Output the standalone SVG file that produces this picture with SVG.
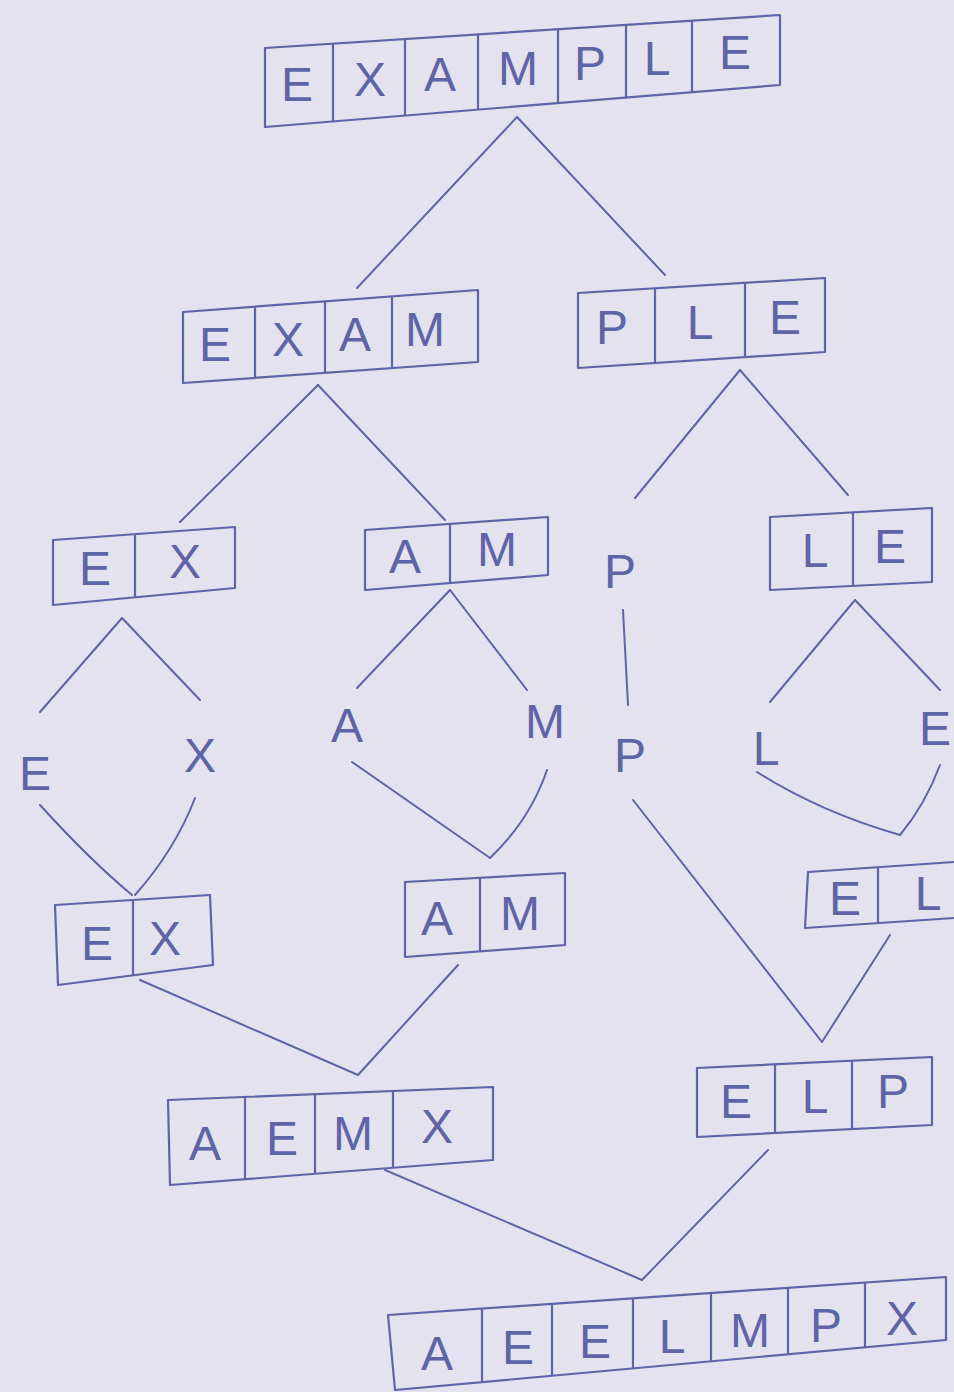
<svg xmlns="http://www.w3.org/2000/svg" width="954" height="1392" viewBox="0 0 954 1392">
<style>
.box{fill:none;stroke:#5e64a6;stroke-width:2.2;stroke-linejoin:round}
.div{stroke:#5e64a6;stroke-width:2.2;fill:none}
.ln{stroke:#5e64a6;stroke-width:2;fill:none;stroke-linecap:round}
.t{font-family:"Liberation Sans",Arial,sans-serif;font-size:48px;fill:#5e64a6;text-anchor:middle}
</style>
<rect x="0" y="0" width="954" height="1392" fill="#e3e2ee"/>

<g id="connectors">
<line class="ln" x1="517" y1="117" x2="357" y2="288"/>
<line class="ln" x1="517" y1="117" x2="665" y2="275"/>
<line class="ln" x1="318" y1="385" x2="180" y2="522"/>
<line class="ln" x1="318" y1="385" x2="445" y2="520"/>
<line class="ln" x1="740" y1="370" x2="635" y2="498"/>
<line class="ln" x1="740" y1="370" x2="848" y2="495"/>
<line class="ln" x1="122" y1="618" x2="40" y2="712"/>
<line class="ln" x1="122" y1="618" x2="200" y2="700"/>
<line class="ln" x1="450" y1="590" x2="357" y2="688"/>
<line class="ln" x1="450" y1="590" x2="527" y2="690"/>
<line class="ln" x1="623" y1="610" x2="628" y2="705"/>
<line class="ln" x1="855" y1="600" x2="770" y2="702"/>
<line class="ln" x1="855" y1="600" x2="940" y2="690"/>
<path class="ln" d="M40 805 Q90 860 132 895"/>
<path class="ln" d="M195 798 Q175 850 135 895"/>
<line class="ln" x1="352" y1="762" x2="490" y2="858"/>
<path class="ln" d="M547 770 Q530 820 490 858"/>
<line class="ln" x1="633" y1="800" x2="822" y2="1042"/>
<path class="ln" d="M757 772 Q820 812 900 835"/>
<path class="ln" d="M940 765 Q925 805 900 835"/>
<line class="ln" x1="890" y1="935" x2="822" y2="1042"/>
<line class="ln" x1="140" y1="980" x2="358" y2="1075"/>
<line class="ln" x1="458" y1="965" x2="358" y2="1075"/>
<line class="ln" x1="385" y1="1170" x2="642" y2="1280"/>
<line class="ln" x1="768" y1="1150" x2="642" y2="1280"/>
</g>

<g id="n-example">
<polygon class="box" points="265,48 780,15 780,85 265,127"/>
<path class="div" d="M333 43.6V121.5M405 39V115.6M478 34.3V109.6M558 29.2V103.1M626 24.9V97.5M692 20.6V92.2"/>
<text class="t" x="297" y="101">E</text>
<text class="t" x="370" y="96">X</text>
<text class="t" x="440" y="91">A</text>
<text class="t" x="518" y="85">M</text>
<text class="t" x="590" y="80">P</text>
<text class="t" x="657" y="75">L</text>
<text class="t" x="735" y="69">E</text>
</g>

<g id="n-exam">
<polygon class="box" points="183,312 478,290 478,362 183,383"/>
<path class="div" d="M255 306.6V377.9M325 301.4V372.9M392 296.4V368.1"/>
<text class="t" x="215" y="361">E</text>
<text class="t" x="288" y="356">X</text>
<text class="t" x="355" y="351">A</text>
<text class="t" x="425" y="346">M</text>
</g>

<g id="n-ple">
<polygon class="box" points="578,293 825,278 825,352 578,368"/>
<path class="div" d="M655 288.3V363M745 282.9V357.2"/>
<text class="t" x="612" y="344">P</text>
<text class="t" x="700" y="339">L</text>
<text class="t" x="785" y="334">E</text>
</g>

<g id="n-ex">
<polygon class="box" points="53,540 235,527 235,588 53,605"/>
<path class="div" d="M135 534.1V597.3"/>
<text class="t" x="95" y="585">E</text>
<text class="t" x="185" y="578">X</text>
</g>

<g id="n-am">
<polygon class="box" points="365,530 548,517 548,575 365,590"/>
<path class="div" d="M450 524V583"/>
<text class="t" x="405" y="573">A</text>
<text class="t" x="497" y="566">M</text>
</g>

<g id="n-p">
<text class="t" x="620" y="588">P</text>
</g>

<g id="n-le">
<polygon class="box" points="770,517 932,508 932,582 770,590"/>
<path class="div" d="M853 512.4V586"/>
<text class="t" x="815" y="567">L</text>
<text class="t" x="890" y="563">E</text>
</g>

<g id="n-e1"><text class="t" x="35" y="790">E</text></g>
<g id="n-x1"><text class="t" x="200" y="772">X</text></g>
<g id="n-a1"><text class="t" x="347" y="742">A</text></g>
<g id="n-m1"><text class="t" x="545" y="738">M</text></g>
<g id="n-p1"><text class="t" x="630" y="772">P</text></g>
<g id="n-l1"><text class="t" x="766" y="765">L</text></g>
<g id="n-e2"><text class="t" x="935" y="745">E</text></g>

<g id="n-ex2">
<polygon class="box" points="55,905 210,895 213,965 58,985"/>
<path class="div" d="M133 900V975"/>
<text class="t" x="97" y="960">E</text>
<text class="t" x="165" y="955">X</text>
</g>

<g id="n-am2">
<polygon class="box" points="405,882 565,873 565,945 405,957"/>
<path class="div" d="M480 878V951"/>
<text class="t" x="437" y="935">A</text>
<text class="t" x="520" y="930">M</text>
</g>

<g id="n-el">
<path class="box" d="M954 862L808 872L805 928L954 918"/>
<path class="div" d="M878 867V923"/>
<text class="t" x="845" y="915">E</text>
<text class="t" x="928" y="910">L</text>
</g>

<g id="n-aemx">
<polygon class="box" points="168,1100 493,1087 493,1160 170,1185"/>
<path class="div" d="M245 1097V1179M315 1094V1173M393 1091V1168"/>
<text class="t" x="205" y="1160">A</text>
<text class="t" x="282" y="1155">E</text>
<text class="t" x="353" y="1150">M</text>
<text class="t" x="437" y="1143">X</text>
</g>

<g id="n-elp">
<polygon class="box" points="697,1068 932,1057 932,1125 697,1137"/>
<path class="div" d="M775 1064V1133M852 1061V1129"/>
<text class="t" x="736" y="1118">E</text>
<text class="t" x="815" y="1113">L</text>
<text class="t" x="893" y="1108">P</text>
</g>

<g id="n-final">
<polygon class="box" points="388,1315 946,1277 946,1340 395,1390"/>
<path class="div" d="M482 1308.6V1381.6M552 1303.8V1375.3M633 1298.3V1368M711 1293V1361M788 1287.8V1354.2M865 1282.5V1347.3"/>
<text class="t" x="437" y="1370">A</text>
<text class="t" x="518" y="1364">E</text>
<text class="t" x="595" y="1358">E</text>
<text class="t" x="672" y="1353">L</text>
<text class="t" x="750" y="1347">M</text>
<text class="t" x="826" y="1342">P</text>
<text class="t" x="902" y="1335">X</text>
</g>
</svg>
